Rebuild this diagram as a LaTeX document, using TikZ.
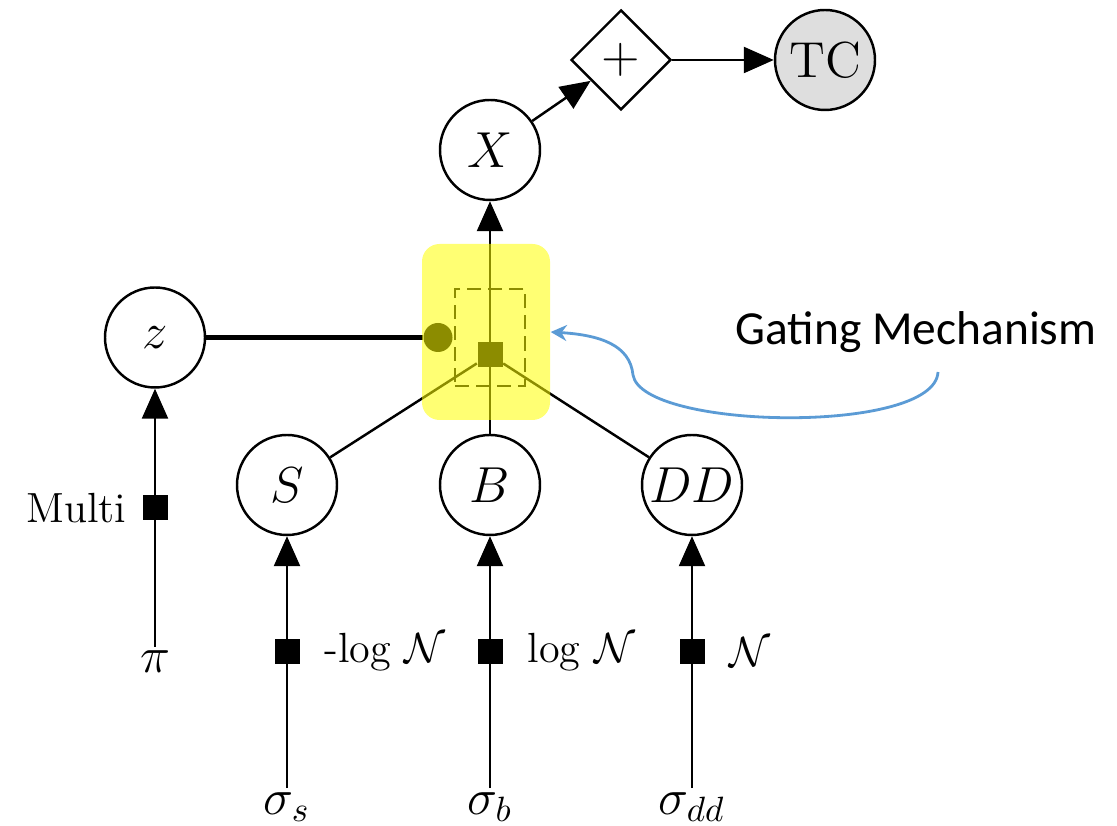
\documentclass[tikz,border=0pt]{standalone}
\usepackage{fontspec}
\usepackage{amsmath}
\usetikzlibrary{shapes.geometric, arrows.meta, positioning, calc}
\newfontfamily\notefont{Carlito}
\definecolor{gateyellow}{RGB}{255,255,0}
\definecolor{notecolor}{RGB}{91,155,213}
\definecolor{obscolor}{RGB}{222,222,222}
\tikzset{
    varnode/.style={circle, draw, line width=0.7pt, minimum size=1cm, inner sep=0pt, font=\Large},
    factor/.style={rectangle, fill=black, minimum size=0.25cm, inner sep=0pt},
    sumnode/.style={diamond, draw, line width=0.7pt, minimum width=1cm, minimum height=1cm, inner sep=0pt, font=\Large},
    param/.style={inner sep=1pt, font=\Large},
    flabel/.style={font=\large},
    arrow/.style={-{Triangle[length=0.3cm, width=0.26cm]}, line width=0.7pt},
    edge/.style={line width=0.7pt},
    gateedge/.style={line width=1.3pt},
    notearrow/.style={-{Stealth[length=1.6mm, width=1.6mm]}, draw=notecolor, line width=0.8pt}
}

\begin{document}
\begin{tikzpicture}

    \useasboundingbox (0,0) rectangle (11.17,8.26);

    % latent and observed variables
    \node[varnode] (z) at (1.55,4.885) {$z$};
    \node[varnode] (S) at (2.87,3.41) {$S$};
    \node[varnode] (B) at (4.90,3.41) {$B$};
    \node[varnode] (DD) at (6.92,3.41) {$DD$};
    \node[varnode] (X) at (4.90,6.76) {$X$};
    \node[sumnode] (plus) at (6.21,7.66) {$+$};
    \node[varnode, fill=obscolor] (TC) at (8.25,7.66) {TC};

    % priors
    \node[param] (pi) at (1.55,1.64) {$\pi$};
    \node[param] (sigs) at (2.87,0.19) {$\sigma_s$};
    \node[param] (sigb) at (4.90,0.19) {$\sigma_b$};
    \node[param] (sigdd) at (6.92,0.19) {$\sigma_{dd}$};

    % factors
    \node[factor] (fmulti) at (1.55,3.18) {};
    \node[factor] (fs) at (2.87,1.74) {};
    \node[factor] (fb) at (4.90,1.74) {};
    \node[factor] (fdd) at (6.92,1.74) {};
    \node[flabel, left=0.03cm of fmulti] {Multi};
    \node[flabel, right=0.12cm of fs] {-log $\mathcal{N}$};
    \node[flabel, right=0.12cm of fb] {log $\mathcal{N}$};
    \node[flabel, right=0.12cm of fdd] {$\mathcal{N}$};

    % gate
    \node[draw, dash pattern={on 4pt off 2pt}, line width=0.7pt, minimum width=0.70cm, minimum height=0.97cm] (gatebound) at (4.90,4.885) {};
    \node[factor] (fgate) at (4.90,4.71) {};
    \node[circle, fill=black, minimum size=0.29cm, inner sep=0pt] (gatedot) at (4.38,4.885) {};

    \draw[arrow] (pi) -- (z);
    \draw[arrow] (sigs) -- (S);
    \draw[arrow] (sigb) -- (B);
    \draw[arrow] (sigdd) -- (DD);
    \draw[arrow] (B) -- (X);
    \draw[edge] (fgate) -- (S);
    \draw[edge] (fgate) -- (DD);
    \draw[gateedge] (z) -- (gatedot);
    \draw[arrow] (X) -- (plus);
    \draw[arrow] (plus) -- (TC);

    \node[rounded corners=5pt, fill=gateyellow, fill opacity=0.55, minimum width=1.28cm, minimum height=1.76cm] (gatebox) at (4.86,4.94) {};

    % annotation
    \node[font=\notefont\fontsize{13.5}{16}\selectfont] (gtext) at (9.16,4.94) {Gating Mechanism};
    \coordinate (gstart) at (9.38,4.54);
    \coordinate (gbend) at (6.33,4.51);
    \draw[notearrow] (gstart) .. controls (9.35,3.91) and (6.42,3.96) .. (gbend)
        .. controls (6.30,4.81) and (6.00,4.91) .. (gatebox.east);

\end{tikzpicture}
\end{document}
